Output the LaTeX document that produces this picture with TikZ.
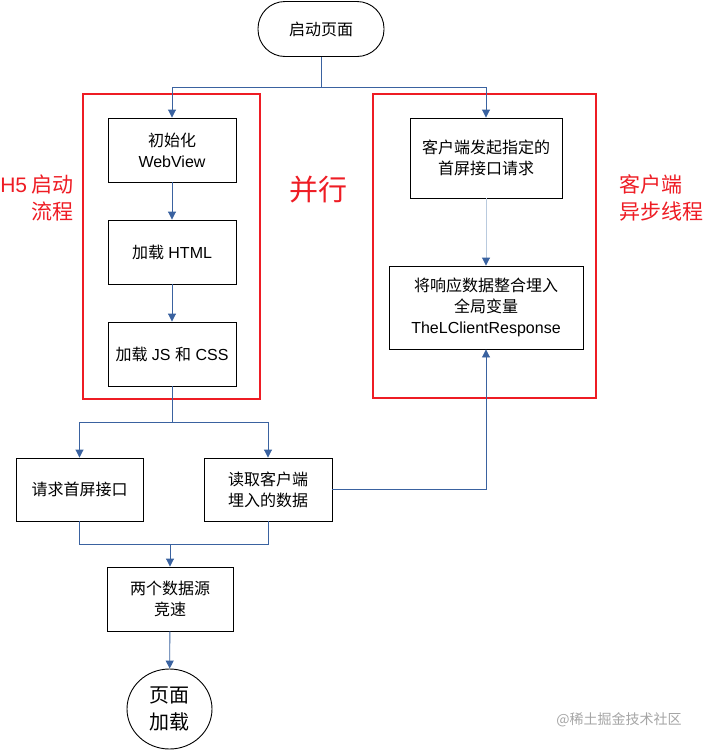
\documentclass[tikz,border=0pt]{standalone}
\usepackage{fontspec}
\setmainfont{Liberation Sans}
\newfontfamily\cjk{Noto Sans CJK SC}
\usetikzlibrary{arrows.meta,shapes.geometric}
\definecolor{linecol}{RGB}{58,98,160}
\definecolor{fadecol}{RGB}{185,202,222}
\definecolor{redcol}{RGB}{238,28,36}
\definecolor{wmcol}{RGB}{165,165,165}
\tikzset{
  box/.style={draw=black, line width=0.9pt, fill=white, align=center, inner sep=2pt,
    font=\fontsize{16}{21}\selectfont},
  arr/.style={draw=linecol, line width=0.9pt, -{Triangle[width=8pt,length=8pt]}},
  conn/.style={draw=linecol, line width=0.9pt},
  redbox/.style={draw=redcol, line width=2pt},
  redlabel/.style={text=redcol, font=\fontsize{21}{27}\selectfont\cjk, inner sep=0pt},
}
\begin{document}
\begin{tikzpicture}[x=1pt,y=-1pt]
\useasboundingbox (0,0) rectangle (705,750);
% red group boxes
\draw[redbox] (83,94) rectangle (260,399);
\draw[redbox] (373,94) rectangle (596,398);
% nodes
\node[box, rounded corners=27pt, minimum width=126pt, minimum height=55pt] (start) at (321,29) {\cjk 启动页面};
\node[box, minimum width=128pt, minimum height=64pt] (b1) at (172,150) {{\cjk 初始化}\\WebView};
\node[box, minimum width=128pt, minimum height=64pt] (b2) at (172,252) {{\cjk 加载} HTML};
\node[box, minimum width=128pt, minimum height=64pt] (b3) at (172,354) {{\cjk 加载} JS {\cjk 和} CSS};
\node[box, minimum width=152pt, minimum height=80pt] (r1) at (486,158) {\cjk 客户端发起指定的\\\cjk 首屏接口请求};
\node[box, minimum width=194pt, minimum height=83pt] (r2) at (486,307.5) {{\cjk 将响应数据整合埋入}\\{\cjk 全局变量}\\TheLClientResponse};
\node[box, minimum width=127pt, minimum height=63pt] (q) at (79.5,489.5) {\cjk 请求首屏接口};
\node[box, minimum width=128pt, minimum height=63pt] (d) at (268,489.5) {\cjk 读取客户端\\\cjk 埋入的数据};
\node[box, minimum width=126pt, minimum height=64pt] (race) at (170,599) {\cjk 两个数据源\\\cjk 竞速};
\node[box, ellipse, inner sep=0pt, minimum width=85pt, minimum height=80pt, font=\fontsize{20}{27}\selectfont\cjk] (end) at (169.5,709) {页面\\加载};
% labels
\node[redlabel, align=right, anchor=east] (lh5) at (74,198) {{\fontspec{Liberation Sans}H5} 启动\\流程};
\node[redlabel, font=\fontsize{29}{30}\selectfont\cjk] (lpar) at (318,190) {并行};
\node[redlabel, align=left, anchor=west] (lcl) at (619,198) {客户端\\异步线程};
\node[text=wmcol, font=\fontsize{14}{16}\selectfont\cjk, inner sep=0pt] (wm) at (619,720) {@稀土掘金技术社区};
% connectors
\coordinate (j1) at (321,87);
\coordinate (j2) at (172,422);
\coordinate (j3) at (170,544);
\draw[conn] (start.south) -- (j1);
\draw[arr] (j1) -| (b1.north);
\draw[arr] (j1) -| (r1.north);
\draw[arr] (b1) -- (b2);
\draw[arr] (b2) -- (b3);
\draw[draw=fadecol, line width=0.9pt, -{Triangle[width=8pt,length=8pt,color=linecol]}] (r1) -- (r2);
\draw[conn] (b3.south) -- (j2);
\draw[arr] (j2) -| (q.north);
\draw[arr] (j2) -| (d.north);
\draw[conn] (q.south) |- (j3);
\draw[conn] (d.south) |- (j3);
\draw[arr] (j3) -- (race.north);
\draw[arr] (race) -- (end);
\draw[arr] (d.east) -| (r2.south);
\end{tikzpicture}
\end{document}
